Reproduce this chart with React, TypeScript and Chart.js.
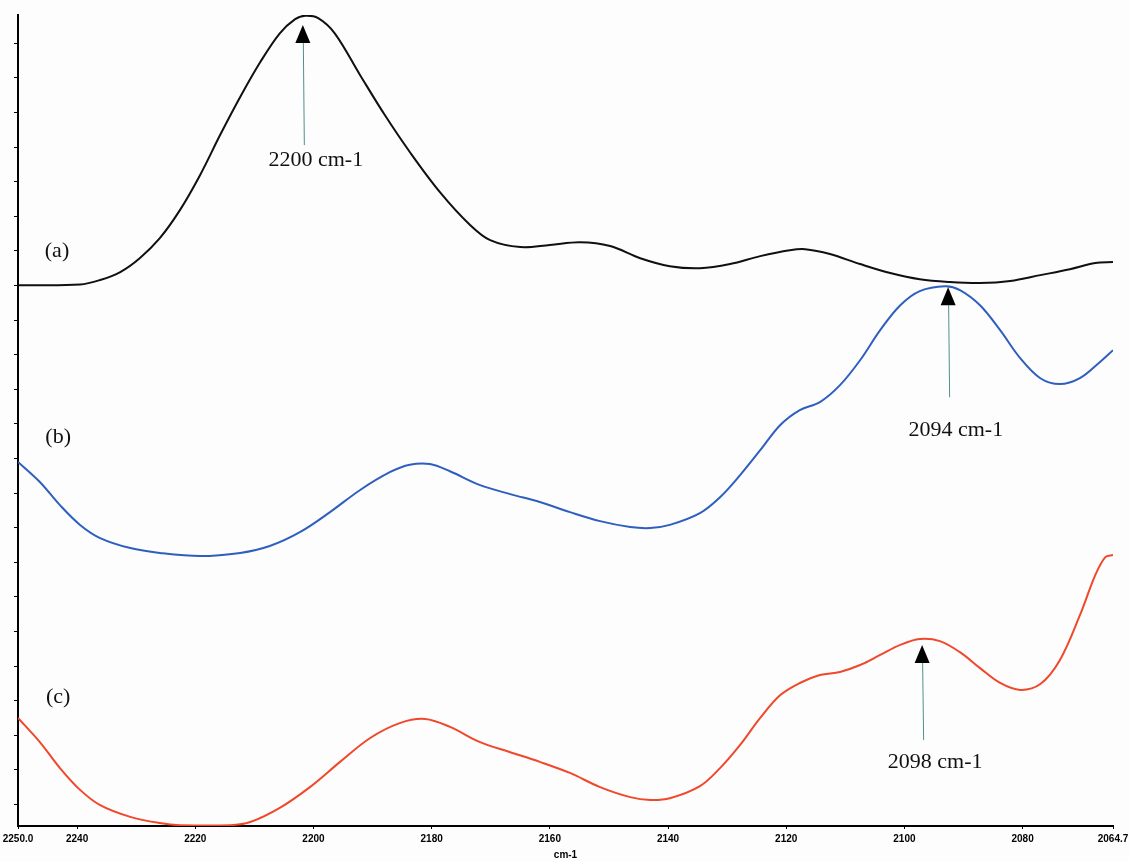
import React, { useEffect, useRef } from "react";
import { Chart, registerables } from "chart.js";

Chart.register(...registerables);

// Wavenumber axis (cm-1), reversed: 2250.0 on the left, 2064.7 on the right
const xTickValues = [2250, 2240, 2220, 2200, 2180, 2160, 2140, 2120, 2100, 2080, 2064.7];
const xTickLabels = ["2250.0", "2240", "2220", "2200", "2180", "2160", "2140", "2120", "2100", "2080", "2064.7"];
const xMin = 2064.7;
const xMax = 2250;
const yMin = 0.376;
const yMax = 23.82;
const yTickValues = Array.from({ length: 23 }, (_, i) => i + 1);

// Spectrum (a)
const aX = [2250.0, 2239.5, 2236.1, 2232.7, 2229.4, 2226.0, 2222.6, 2219.2, 2215.8, 2212.4, 2209.0, 2205.7, 2203.1, 2201.4, 2199.2, 2196.4, 2192.1, 2187.9, 2183.7, 2178.6, 2173.5, 2170.1, 2165.0, 2160.0, 2154.9, 2149.8, 2144.7, 2139.7, 2134.6, 2129.5, 2124.4, 2119.4, 2116.8, 2112.6, 2107.5, 2102.4, 2097.4, 2092.3, 2087.2, 2082.1, 2077.0, 2072.0, 2067.7, 2064.7];
const aY = [16.01, 16.03, 16.16, 16.39, 16.79, 17.37, 18.18, 19.19, 20.35, 21.45, 22.46, 23.29, 23.7, 23.8, 23.73, 23.29, 22.08, 20.92, 19.86, 18.7, 17.75, 17.31, 17.11, 17.17, 17.25, 17.14, 16.79, 16.56, 16.5, 16.62, 16.85, 17.02, 17.05, 16.91, 16.62, 16.36, 16.18, 16.1, 16.07, 16.13, 16.3, 16.47, 16.65, 16.68];

// Spectrum (b)
const bX = [2250.0, 2246.3, 2242.9, 2239.5, 2236.1, 2231.0, 2226.0, 2219.2, 2212.4, 2207.4, 2202.3, 2197.2, 2192.1, 2187.0, 2183.7, 2180.3, 2176.9, 2171.8, 2166.7, 2161.7, 2156.6, 2151.5, 2146.4, 2143.0, 2139.7, 2134.6, 2131.2, 2127.8, 2124.4, 2121.0, 2117.7, 2114.3, 2110.9, 2107.5, 2104.1, 2100.7, 2097.4, 2093.1, 2090.6, 2087.2, 2083.8, 2080.4, 2077.0, 2073.7, 2070.3, 2066.9, 2064.7];
const bY = [10.9, 10.32, 9.65, 9.08, 8.7, 8.41, 8.27, 8.18, 8.27, 8.47, 8.87, 9.45, 10.09, 10.61, 10.82, 10.84, 10.63, 10.23, 9.97, 9.74, 9.45, 9.19, 9.02, 8.99, 9.08, 9.42, 9.88, 10.52, 11.24, 11.97, 12.4, 12.63, 13.12, 13.84, 14.71, 15.43, 15.84, 15.98, 15.87, 15.43, 14.71, 13.9, 13.32, 13.15, 13.32, 13.79, 14.13];

// Spectrum (c)
const cX = [2250.0, 2246.3, 2242.9, 2239.5, 2236.1, 2231.0, 2226.0, 2222.6, 2214.1, 2210.7, 2205.7, 2200.6, 2195.5, 2190.4, 2185.4, 2181.1, 2176.9, 2171.8, 2166.7, 2161.7, 2156.6, 2151.5, 2146.4, 2143.0, 2139.7, 2134.6, 2131.2, 2127.8, 2124.4, 2121.0, 2117.7, 2114.3, 2110.9, 2107.5, 2104.1, 2100.7, 2097.4, 2094.0, 2090.6, 2087.2, 2083.8, 2080.4, 2077.0, 2073.7, 2070.3, 2067.7, 2066.0, 2064.7];
const cY = [3.5, 2.8, 2.05, 1.42, 0.98, 0.64, 0.46, 0.4, 0.4, 0.49, 0.9, 1.5, 2.23, 2.92, 3.35, 3.47, 3.24, 2.8, 2.51, 2.23, 1.91, 1.5, 1.21, 1.13, 1.18, 1.53, 2.05, 2.72, 3.5, 4.16, 4.51, 4.74, 4.83, 5.03, 5.32, 5.61, 5.78, 5.72, 5.4, 4.94, 4.51, 4.31, 4.48, 5.17, 6.47, 7.63, 8.15, 8.21];

// Peak annotations
const peakLabels = ["2200 cm-1", "2094 cm-1", "2098 cm-1"];
const peakX = [2201.8, 2092.6, 2097.0];
const peakTipY = [23.53, 15.95, 5.61];
const peakTailY = [20.06, 12.77, 2.86];
const peakLabelX = [2199.6, 2091.3, 2094.8];
const peakLabelY = [19.62, 11.82, 2.23];

// Curve labels
const curveLabels = ["(a)", "(b)", "(c)"];
const curveLabelX = [2243.4, 2243.2, 2243.2];
const curveLabelY = [16.99, 11.62, 4.1];

const toPoints = (xs: number[], ys: number[]) => xs.map((x, i) => ({ x, y: ys[i] }));

const annotationPlugin = {
  id: "peakAnnotations",
  afterDatasetsDraw(chart: any) {
    const { ctx, scales } = chart;
    const xs = scales.x;
    const ys = scales.y;
    ctx.save();
    for (let i = 0; i < peakLabels.length; i++) {
      const px = xs.getPixelForValue(peakX[i]);
      const tip = ys.getPixelForValue(peakTipY[i]);
      const tail = ys.getPixelForValue(peakTailY[i]);
      const triH = 18;
      const triW = 15;
      ctx.beginPath();
      ctx.strokeStyle = "#4f8f8c";
      ctx.lineWidth = 1;
      ctx.moveTo(px + 0.5, tip + triH);
      ctx.lineTo(px + 1.5, tail);
      ctx.stroke();
      ctx.beginPath();
      ctx.fillStyle = "#000";
      ctx.moveTo(px, tip);
      ctx.lineTo(px - triW / 2, tip + triH);
      ctx.lineTo(px + triW / 2, tip + triH);
      ctx.closePath();
      ctx.fill();
      ctx.font = "22px 'Liberation Serif', serif";
      ctx.textAlign = "center";
      ctx.textBaseline = "middle";
      ctx.fillStyle = "#111";
      ctx.fillText(peakLabels[i], xs.getPixelForValue(peakLabelX[i]), ys.getPixelForValue(peakLabelY[i]));
    }
    for (let i = 0; i < curveLabels.length; i++) {
      ctx.font = "22px 'Liberation Serif', serif";
      ctx.textAlign = "center";
      ctx.textBaseline = "middle";
      ctx.fillStyle = "#111";
      ctx.fillText(curveLabels[i], xs.getPixelForValue(curveLabelX[i]), ys.getPixelForValue(curveLabelY[i]));
    }
    ctx.restore();
  },
};

export default function App() {
  const ref = useRef<HTMLCanvasElement | null>(null);
  useEffect(() => {
    if (!ref.current) return;
    const common = {
      pointRadius: 0,
      borderWidth: 2,
      fill: false,
      tension: 0.35,
    };
    const chart = new Chart(ref.current, {
      type: "line",
      data: {
        datasets: [
          { ...common, label: "(a)", data: toPoints(aX, aY), borderColor: "#101010" },
          { ...common, label: "(b)", data: toPoints(bX, bY), borderColor: "#2e5fbe" },
          { ...common, label: "(c)", data: toPoints(cX, cY), borderColor: "#f0482a" },
        ],
      },
      options: {
        responsive: false,
        animation: false,
        layout: { padding: { top: 15, right: 16, left: 0, bottom: 0 } },
        plugins: {
          legend: { display: false },
          tooltip: { enabled: false },
          title: { display: false },
        },
        scales: {
          x: {
            type: "linear",
            reverse: true,
            min: xMin,
            max: xMax,
            afterBuildTicks: (scale: any) => {
              scale.ticks = xTickValues.map((v) => ({ value: v }));
            },
            afterFit: (scale: any) => {
              scale.height = 35;
              scale.paddingLeft = 0;
              scale.paddingRight = 0;
            },
            ticks: {
              autoSkip: false,
              maxRotation: 0,
              padding: 4,
              color: "#000",
              font: { family: "'Liberation Sans', Arial, sans-serif", size: 10, weight: "bold" },
              callback: (value: any) => {
                const idx = xTickValues.indexOf(Number(value));
                return idx >= 0 ? xTickLabels[idx] : "";
              },
            },
            grid: { drawOnChartArea: false, drawTicks: true, tickLength: 3, color: "#000" },
            border: { display: true, color: "#000", width: 2 },
            title: {
              display: true,
              text: "cm-1",
              color: "#000",
              padding: { top: 0, bottom: 0 },
              font: { family: "'Liberation Sans', Arial, sans-serif", size: 10, weight: "bold" },
            },
          },
          y: {
            type: "linear",
            min: yMin,
            max: yMax,
            afterBuildTicks: (scale: any) => {
              scale.ticks = yTickValues.map((v) => ({ value: v }));
            },
            afterFit: (scale: any) => {
              scale.width = 18;
            },
            ticks: { display: false },
            grid: { drawOnChartArea: false, drawTicks: true, tickLength: 4, color: "#000" },
            border: { display: true, color: "#000", width: 2 },
          },
        },
      },
      plugins: [annotationPlugin],
    });
    return () => chart.destroy();
  }, []);
  return (
    <div style={{ position: "fixed", left: 0, top: 0, width: 1129, height: 861, background: "#fdfdfe" }}>
      <canvas ref={ref} width={1129} height={861} style={{ display: "block", width: 1129, height: 861 }} />
    </div>
  );
}
